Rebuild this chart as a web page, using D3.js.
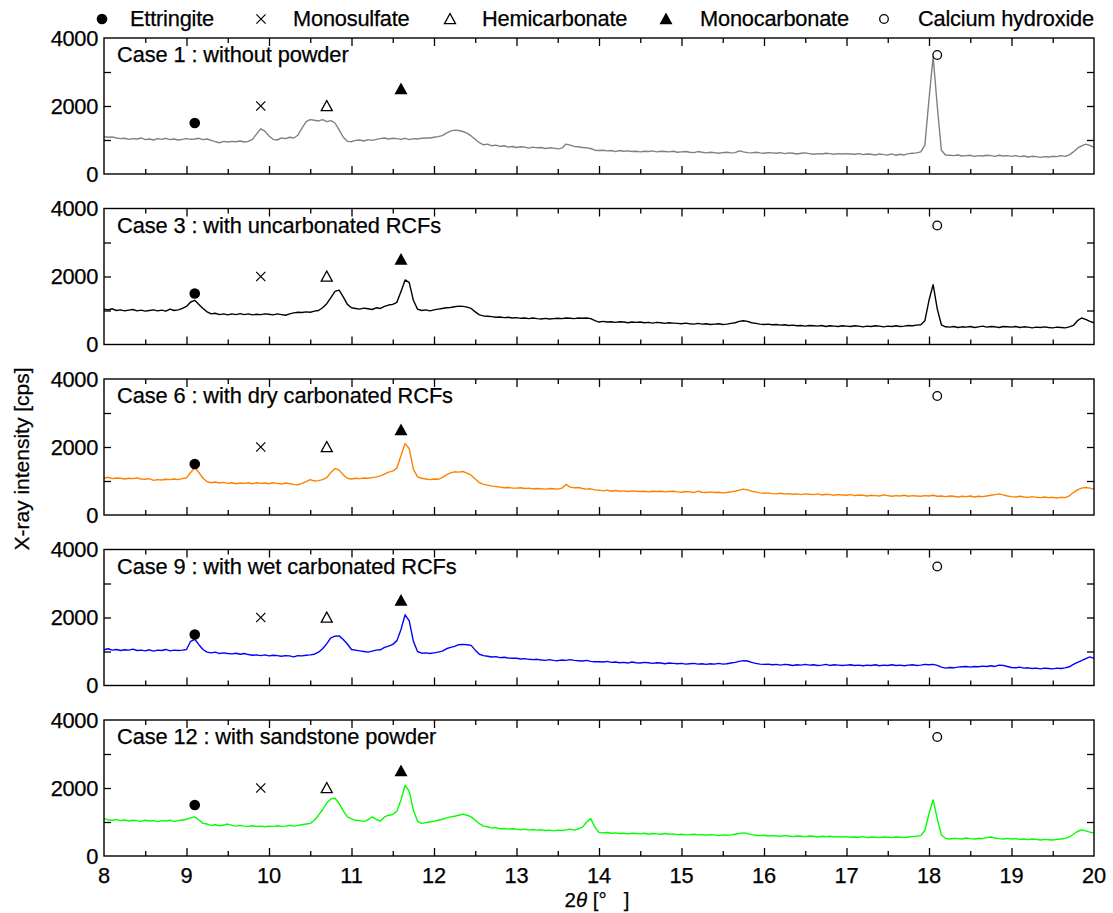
<!DOCTYPE html>
<html><head><meta charset="utf-8">
<script src="https://cdn.jsdelivr.net/npm/d3@7"></script>
<style>body{margin:0;background:#fff} text{font-family:"Liberation Sans",Arial,sans-serif;fill:#000;stroke:#000;stroke-width:0.25px}</style>
</head><body><svg id="c" width="1113" height="913"></svg>
<script>
// 2θ sampling grid: 8.00 .. 20.00 every 0.05°
const twoThetaStart = 8, twoThetaStep = 0.05;

const case1 = [
1100,1080,1090,1060,1040,1050,1020,1040,1030,1060,1010,1030,1000,1040,1020,1050,1010,1030,1000,1020,
1040,1020,1030,1050,1010,1030,990,950,920,960,940,960,950,970,940,960,1020,1180,1330,1260,
1120,1020,1000,1060,1040,1080,1060,1140,1350,1540,1600,1580,1560,1600,1540,1570,1500,1300,1080,960,
950,990,1000,970,1010,990,1020,1040,1060,1030,1050,1040,1020,1050,1010,1040,1030,1050,1060,1060,
1080,1100,1130,1200,1260,1290,1280,1250,1200,1120,1020,920,860,880,830,850,810,830,790,810,
780,800,790,760,790,770,780,750,770,760,740,760,880,850,810,800,780,770,750,700,
690,700,680,690,660,690,670,680,660,670,650,670,660,680,650,670,660,650,670,640,
650,660,640,630,660,640,620,640,630,610,630,640,620,630,680,650,630,620,640,620,
610,630,620,610,630,600,620,610,590,610,620,600,580,600,590,610,600,580,600,590,
600,590,580,600,570,590,580,560,590,570,560,590,550,580,560,600,610,620,650,850,
2200,3450,2000,700,560,550,540,560,530,540,550,520,540,530,550,540,520,550,530,540,
520,540,510,530,500,520,510,490,510,500,520,510,540,520,560,650,760,830,880,840,
780];

const case3 = [
1040,1020,1050,1000,1020,990,1010,1030,990,1010,980,1000,1020,990,1010,980,1040,1000,1020,1060,
1120,1250,1300,1180,1060,960,900,920,880,900,870,900,880,910,880,900,870,890,880,900,
890,870,900,880,860,900,930,950,940,960,950,980,1000,1080,1200,1380,1560,1600,1400,1180,
1080,1060,1040,1070,1050,1030,1080,1060,1120,1160,1180,1240,1560,1900,1820,1300,1040,1000,1020,990,
1020,1040,1060,1080,1090,1110,1130,1120,1100,1060,960,870,840,830,820,800,810,790,800,780,
790,770,780,760,780,760,750,770,750,760,770,760,780,770,760,780,770,780,760,700,
660,680,660,670,650,670,660,640,660,650,660,640,650,630,650,640,620,640,630,620,
610,630,610,600,620,600,610,590,600,610,590,600,620,640,680,700,680,640,620,600,
590,600,580,590,570,580,560,570,550,560,540,560,550,540,560,530,550,540,530,550,
540,530,550,540,520,540,530,550,540,520,540,530,550,530,540,560,550,570,580,700,
1300,1760,1050,580,520,510,530,500,520,510,530,500,520,540,510,530,520,500,530,520,
510,530,500,520,510,490,510,500,520,500,490,510,500,490,520,560,700,780,740,680,
640];

const case6 = [
1080,1110,1070,1090,1080,1060,1080,1070,1090,1060,1050,1070,1020,1040,1030,1050,1040,1060,1040,1070,
1090,1250,1390,1250,1080,980,950,970,940,960,930,950,920,940,930,950,920,950,930,940,
920,950,930,910,940,920,900,890,930,980,1040,1000,1010,1040,1100,1250,1370,1320,1180,1080,
1060,1080,1070,1090,1080,1100,1120,1150,1200,1260,1290,1380,1750,2100,1950,1350,1120,1080,1060,1040,
1060,1050,1100,1180,1240,1270,1260,1280,1230,1170,1060,950,900,880,850,840,820,800,810,790,
790,800,780,790,770,780,770,760,780,770,760,790,900,820,800,810,780,760,770,740,
730,710,730,700,720,700,710,690,710,700,690,700,680,700,690,700,680,690,700,680,
670,690,680,660,700,670,660,680,660,670,650,660,680,700,730,760,740,700,680,650,
640,650,630,620,640,620,630,610,620,600,620,610,600,620,590,610,600,580,600,590,
580,600,570,590,580,560,580,570,560,590,570,550,570,560,580,550,570,560,550,570,
560,580,550,560,540,560,550,530,550,540,560,530,550,540,560,580,600,620,590,560,
540,530,550,530,520,540,520,510,530,510,520,500,520,510,560,660,740,790,810,790,
760];

const case9 = [
1050,1080,1040,1060,1030,1050,1040,1070,1030,1040,1020,1050,1010,1040,1030,1060,1020,1040,1030,1040,
1060,1300,1360,1200,1060,980,960,980,940,960,940,930,950,920,940,910,890,900,880,900,
870,890,880,860,880,870,840,880,870,890,900,920,980,1080,1230,1400,1450,1460,1350,1220,
1060,1040,1020,1000,980,1010,1040,1050,1120,1160,1210,1320,1650,2080,1900,1300,1000,950,960,940,
960,980,1010,1080,1120,1150,1200,1210,1200,1180,1040,920,880,860,840,850,820,830,810,800,
800,780,790,770,760,770,750,740,760,740,730,750,740,760,740,730,720,740,710,700,
700,690,710,680,690,670,680,660,690,670,660,680,670,650,670,660,640,660,650,640,
650,630,640,650,630,640,620,640,630,650,630,640,660,680,710,730,720,680,650,630,
620,630,610,620,600,620,610,590,610,600,620,600,610,590,600,620,590,610,600,590,
600,610,590,600,580,600,590,610,580,600,590,610,590,600,580,600,610,590,600,620,
610,620,590,540,510,530,520,540,550,560,540,560,550,570,560,580,560,600,590,560,
530,520,540,510,520,500,510,490,510,500,490,510,500,520,550,620,680,730,790,840,
800];

const case12 = [
1100,1060,1050,1070,1040,1060,1030,1050,1040,1020,1050,1030,1040,1010,1040,1030,1050,1020,1040,1060,
1080,1120,1150,1060,960,940,900,920,890,910,940,900,880,900,880,870,890,870,880,860,
880,870,890,870,880,900,880,900,920,940,960,1050,1200,1360,1560,1680,1700,1550,1330,1150,
1090,1050,1040,1020,1060,1150,1080,1030,1150,1200,1220,1320,1650,2080,1900,1350,1020,960,980,1000,
1020,1050,1080,1120,1150,1170,1200,1230,1200,1150,1050,950,880,860,820,840,800,810,790,800,
790,770,790,760,780,760,770,750,760,740,760,750,770,790,760,800,850,1000,1100,850,
690,680,690,670,680,660,670,650,670,660,650,670,640,660,650,640,660,640,650,630,
640,620,630,640,620,630,610,630,620,600,620,610,620,640,660,680,660,630,610,600,
610,590,600,590,580,600,590,570,590,580,570,590,580,560,580,570,580,560,570,560,
570,550,560,550,570,540,560,550,540,560,550,540,560,550,540,560,570,580,600,750,
1250,1650,1100,620,520,500,520,510,500,530,510,500,520,510,540,560,530,510,500,520,
500,510,490,500,480,500,490,470,490,480,470,490,500,520,560,640,720,770,740,700,
680];

const seriesList = [case1, case3, case6, case9, case12];
const panelLabels = [
  "Case 1 : without powder",
  "Case 3 : with uncarbonated RCFs",
  "Case 6 : with dry carbonated RCFs",
  "Case 9 : with wet carbonated RCFs",
  "Case 12 : with sandstone powder"
];
const lineColors = ["#808080", "#000000", "#ff8000", "#0000ff", "#00ff00"];

const phaseNames = ["Ettringite", "Monosulfate", "Hemicarbonate", "Monocarbonate", "Calcium hydroxide"];
const phaseSymbols = ["dot", "cross", "openTri", "fillTri", "ring"];
const phaseX = [9.1, 9.9, 10.7, 11.6, 18.1];
const phaseY = [1500, 2000, 2000, 2500, 3500];

const xMajorTicks = [8, 9, 10, 11, 12, 13, 14, 15, 16, 17, 18, 19, 20];
const xMinorTicks = [8.5, 9.5, 10.5, 11.5, 12.5, 13.5, 14.5, 15.5, 16.5, 17.5, 18.5, 19.5];
const yTicks = [0, 1000, 2000, 3000, 4000];
const yTickLabels = [0, 2000, 4000];

// ---------- drawing ----------
const svg = d3.select("#c");
const left = 104, right = 1094;
const panelTop0 = 38, panelGap = 170.5, panelH = 136;
const x = d3.scaleLinear().domain([8, 20]).range([left, right]);
const FS = 21.8;

function drawSymbol(g, type, cx, cy) {
  if (type === "dot") {
    g.append("circle").attr("cx", cx).attr("cy", cy).attr("r", 5.3).attr("fill", "#000");
  } else if (type === "ring") {
    g.append("circle").attr("cx", cx).attr("cy", cy).attr("r", 4.3)
      .attr("fill", "none").attr("stroke", "#000").attr("stroke-width", 1.3);
  } else if (type === "cross") {
    const s = 4.6;
    g.append("path").attr("d", `M${cx - s},${cy - s}L${cx + s},${cy + s}M${cx - s},${cy + s}L${cx + s},${cy - s}`)
      .attr("stroke", "#000").attr("stroke-width", 1.2).attr("fill", "none");
  } else if (type === "openTri") {
    const s = 5.5;
    g.append("path").attr("d", `M${cx},${cy - s}L${cx + s},${cy + s * 0.85}L${cx - s},${cy + s * 0.85}Z`)
      .attr("stroke", "#000").attr("stroke-width", 1.3).attr("fill", "none");
  } else if (type === "fillTri") {
    const s = 6.5;
    g.append("path").attr("d", `M${cx},${cy - s}L${cx + s},${cy + s * 0.8}L${cx - s},${cy + s * 0.8}Z`)
      .attr("fill", "#000");
  }
}

// legend
const legendMarkX = [102, 261, 450, 666, 884];
const legendTextX = [130, 293, 482, 700, 918];
phaseNames.forEach((n, i) => {
  drawSymbol(svg, phaseSymbols[i], legendMarkX[i], 19);
  svg.append("text").attr("x", legendTextX[i]).attr("y", 26).attr("font-size", FS)
    .attr("letter-spacing", "-0.2").text(n);
});

seriesList.forEach((vals, p) => {
  const top = panelTop0 + p * panelGap;
  const bottom = top + panelH;
  const y = d3.scaleLinear().domain([0, 4000]).range([bottom, top]);
  const g = svg.append("g");

  const mk = (axis, tr, vals2, len) => {
    const a = g.append("g").attr("transform", tr)
      .call(axis.tickValues(vals2).tickSize(-len).tickFormat(""));
    a.select(".domain").remove();
    a.selectAll("line").attr("stroke", "#000").attr("stroke-width", 1.3);
    return a;
  };
  mk(d3.axisBottom(x), `translate(0,${bottom})`, xMajorTicks.slice(1, -1), 8);
  mk(d3.axisBottom(x), `translate(0,${bottom})`, xMinorTicks, 5);
  mk(d3.axisTop(x), `translate(0,${top})`, xMajorTicks.slice(1, -1), 8);
  mk(d3.axisTop(x), `translate(0,${top})`, xMinorTicks, 5);
  mk(d3.axisLeft(y), `translate(${left},0)`, yTicks.slice(1, -1), 7);
  mk(d3.axisRight(y), `translate(${right},0)`, yTicks.slice(1, -1), 7);

  // y tick labels
  yTickLabels.forEach(v => {
    g.append("text").attr("x", left - 6).attr("y", y(v)).attr("dy", "0.36em")
      .attr("text-anchor", "end").attr("font-size", FS).attr("letter-spacing", "-0.3").text(v);
  });
  if (p === 4) {
    xMajorTicks.forEach(v => {
      g.append("text").attr("x", x(v)).attr("y", bottom + 27).attr("text-anchor", "middle")
        .attr("font-size", FS).text(v);
    });
  }

  // data line
  const line = d3.line()
    .x((d, i) => x(twoThetaStart + twoThetaStep * i))
    .y(d => y(d));
  g.append("path").datum(vals).attr("d", line).attr("fill", "none")
    .attr("stroke", lineColors[p]).attr("stroke-width", 1.4).attr("stroke-linejoin", "round");

  // phase markers
  phaseX.forEach((px, i) => drawSymbol(g, phaseSymbols[i], x(px), y(phaseY[i])));

  // frame
  g.append("rect").attr("x", left).attr("y", top).attr("width", right - left).attr("height", panelH)
    .attr("fill", "none").attr("stroke", "#000").attr("stroke-width", 1.4);

  // label
  g.append("text").attr("x", left + 13).attr("y", top + 24).attr("font-size", FS)
    .attr("letter-spacing", "-0.1").text(panelLabels[p]);
});

// axis titles
svg.append("text").attr("transform", "translate(29,459) rotate(-90)").attr("text-anchor", "middle")
  .attr("font-size", 21).text("X-ray intensity [cps]");
const xt = svg.append("text").attr("x", 597).attr("y", 907).attr("text-anchor", "middle").attr("font-size", 20.5);
xt.append("tspan").text("2");
xt.append("tspan").attr("font-style", "italic").text("θ");
xt.append("tspan").text(" [°\u00a0\u00a0\u00a0]");
</script></body></html>
